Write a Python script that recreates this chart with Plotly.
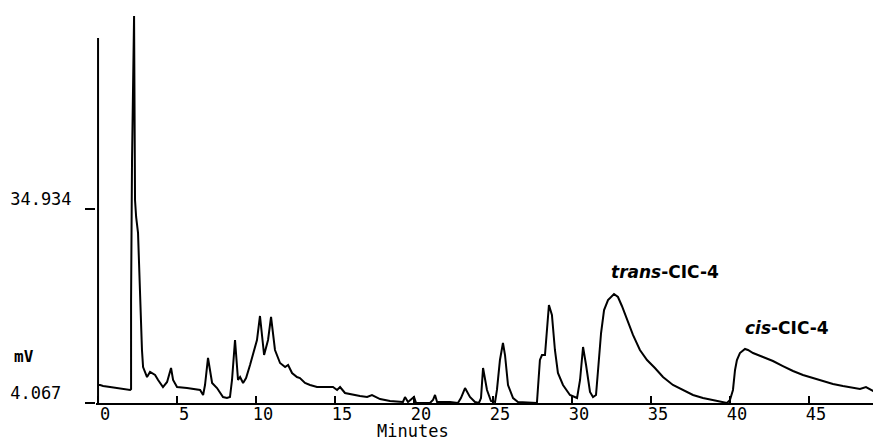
import plotly.graph_objects as go

# Retention time (minutes) and detector signal (mV)
time_min = [0.00, 0.00, 0.00, 0.13, 0.32, 0.76, 1.20, 1.71, 2.03, 2.09, 2.09, 2.15, 2.28, 2.34, 2.41,
            2.53, 2.66, 2.78, 2.85, 3.10, 3.29, 3.61, 3.80, 4.11, 4.37, 4.62, 4.75, 5.00, 5.63, 6.46,
            6.65, 6.77, 6.96, 7.22, 7.53, 7.72, 7.91, 8.16, 8.35, 8.48, 8.67, 8.86, 8.99, 9.18, 9.37,
            9.62, 9.81, 10.06, 10.25, 10.51, 10.76, 10.95, 11.20, 11.52, 11.84, 12.03, 12.28, 12.59,
            12.78, 13.10, 13.42, 13.86, 14.87, 15.13, 15.32, 15.63, 16.58, 17.03, 17.34, 17.85, 18.48,
            19.30, 19.43, 19.62, 20.00, 20.13, 21.01, 21.20, 21.33, 21.46, 22.28, 22.78, 22.97, 23.23,
            23.54, 23.86, 24.11, 24.24, 24.37, 24.62, 24.87, 25.13, 25.25, 25.44, 25.63, 25.76, 25.95,
            26.27, 26.58, 27.78, 27.97, 28.10, 28.29, 28.54, 28.73, 28.92, 29.11, 29.43, 29.87, 30.32,
            30.51, 30.70, 30.89, 31.14, 31.33, 31.52, 31.65, 31.84, 32.03, 32.28, 32.66, 32.91, 33.16,
            33.48, 33.86, 34.30, 34.75, 35.25, 35.76, 36.39, 37.03, 37.66, 38.29, 38.92, 39.56, 39.81,
            40.00, 40.19, 40.32, 40.44, 40.63, 40.95, 41.14, 41.46, 42.09, 42.72, 43.35, 43.99, 44.62,
            45.25, 45.89, 46.52, 47.15, 47.78, 48.23, 48.61, 49.05, 49.37, 49.56]
signal_mv = [4.07, 62.14, 6.93, 6.93, 6.77, 6.61, 6.45, 6.29, 6.14, 6.29, 20.45, 42.73, 65.64, 36.37, 33.66,
             31.12, 20.45, 12.50, 9.79, 8.20, 9.00, 8.52, 7.73, 6.61, 7.41, 9.64, 7.73, 6.61, 6.45, 6.14,
             5.34, 6.93, 11.23, 7.25, 6.45, 5.82, 5.02, 4.86, 5.02, 7.73, 14.09, 7.73, 8.20, 7.25, 8.04,
             10.11, 11.70, 14.09, 17.91, 11.70, 14.09, 17.75, 12.50, 10.43, 9.79, 10.11, 8.84, 8.20,
             8.04, 7.25, 6.93, 6.61, 6.61, 6.14, 6.61, 5.66, 5.18, 5.02, 5.34, 4.70, 4.39,
             4.23, 5.02, 4.23, 5.02, 4.07, 4.07, 4.54, 5.34, 4.23, 4.23, 4.07, 4.86, 6.45,
             5.02, 4.23, 4.07, 4.86, 9.64, 6.14, 4.39, 4.23, 6.14, 10.91, 13.61, 11.70, 6.93,
             4.86, 4.23, 4.07, 10.91, 11.70, 11.70, 19.66, 18.07, 12.50, 8.84, 6.93, 5.34, 4.86,
             7.73, 12.98, 10.11, 5.82, 5.02, 5.34, 9.32, 15.20, 18.86, 20.45, 21.41, 20.93, 19.50,
             17.27, 14.89, 12.50, 10.91, 9.64, 8.20, 6.93, 6.14, 5.34, 4.86, 4.54, 4.23, 4.07,
             4.54, 6.14, 9.32, 10.91, 12.02, 12.66, 12.50, 12.02, 11.39, 10.75, 9.95, 9.16, 8.52,
             8.04, 7.57, 7.09, 6.77, 6.45, 6.29, 6.61, 5.98, 6.29, 5.98]

x_ticks = [0, 5, 10, 15, 20, 25, 30, 35, 40, 45]
y_ticks = [34.934, 4.067]
y_tick_text = ["34.934", "4.067\u00a0"]

peak_labels = ["<b><i>trans</i>-CIC-4</b>", "<b><i>cis</i>-CIC-4</b>"]
peak_label_time = [35.9, 43.6]
peak_label_mv = [24.9, 16.0]

mono = "DejaVu Sans Mono"

fig = go.Figure()
fig.add_trace(go.Scatter(x=time_min, y=signal_mv, mode="lines",
                         line=dict(color="black", width=2), hoverinfo="x+y"))

for txt, tx, ty in zip(peak_labels, peak_label_time, peak_label_mv):
    fig.add_annotation(x=tx, y=ty, xref="x", yref="y", text=txt, showarrow=False,
                       font=dict(family="DejaVu Sans", size=17, color="black"))

fig.add_annotation(x=-0.107, y=11.39, xref="paper", yref="y", text="<b>mV</b>", showarrow=False,
                   xanchor="left", font=dict(family=mono, size=16, color="black"))
fig.add_annotation(x=19.95, y=0, xref="x", yref="paper", text="Minutes", showarrow=False,
                   yanchor="middle", yshift=-28, font=dict(family=mono, size=17, color="black"))

# page body has an 8px margin, so the figure is sized to end at the window edge
fig.update_layout(
    width=873, height=433,
    margin=dict(l=88, r=0, t=2, b=38),
    plot_bgcolor="white", paper_bgcolor="white",
    showlegend=False,
    xaxis=dict(range=[-0.13, 49.56], showline=True, linecolor="black", linewidth=2,
               ticks="inside", ticklen=7, tickwidth=1.5, tickcolor="black",
               tickvals=x_ticks, ticktext=[str(v) for v in x_ticks],
               tickfont=dict(family=mono, size=17, color="black"),
               ticklabelshift=7, ticklabelstandoff=-5,
               showgrid=False, zeroline=False, automargin=False),
    yaxis=dict(range=[4.067, 66.59], showline=False, showgrid=False, zeroline=False,
               ticks="outside", ticklen=10, tickwidth=1.5, tickcolor="black",
               tickvals=y_ticks, ticktext=y_tick_text,
               tickfont=dict(family=mono, size=17, color="black"),
               ticklabelshift=-10, ticklabelstandoff=10, automargin=False),
)

fig.write_html("out.html")
